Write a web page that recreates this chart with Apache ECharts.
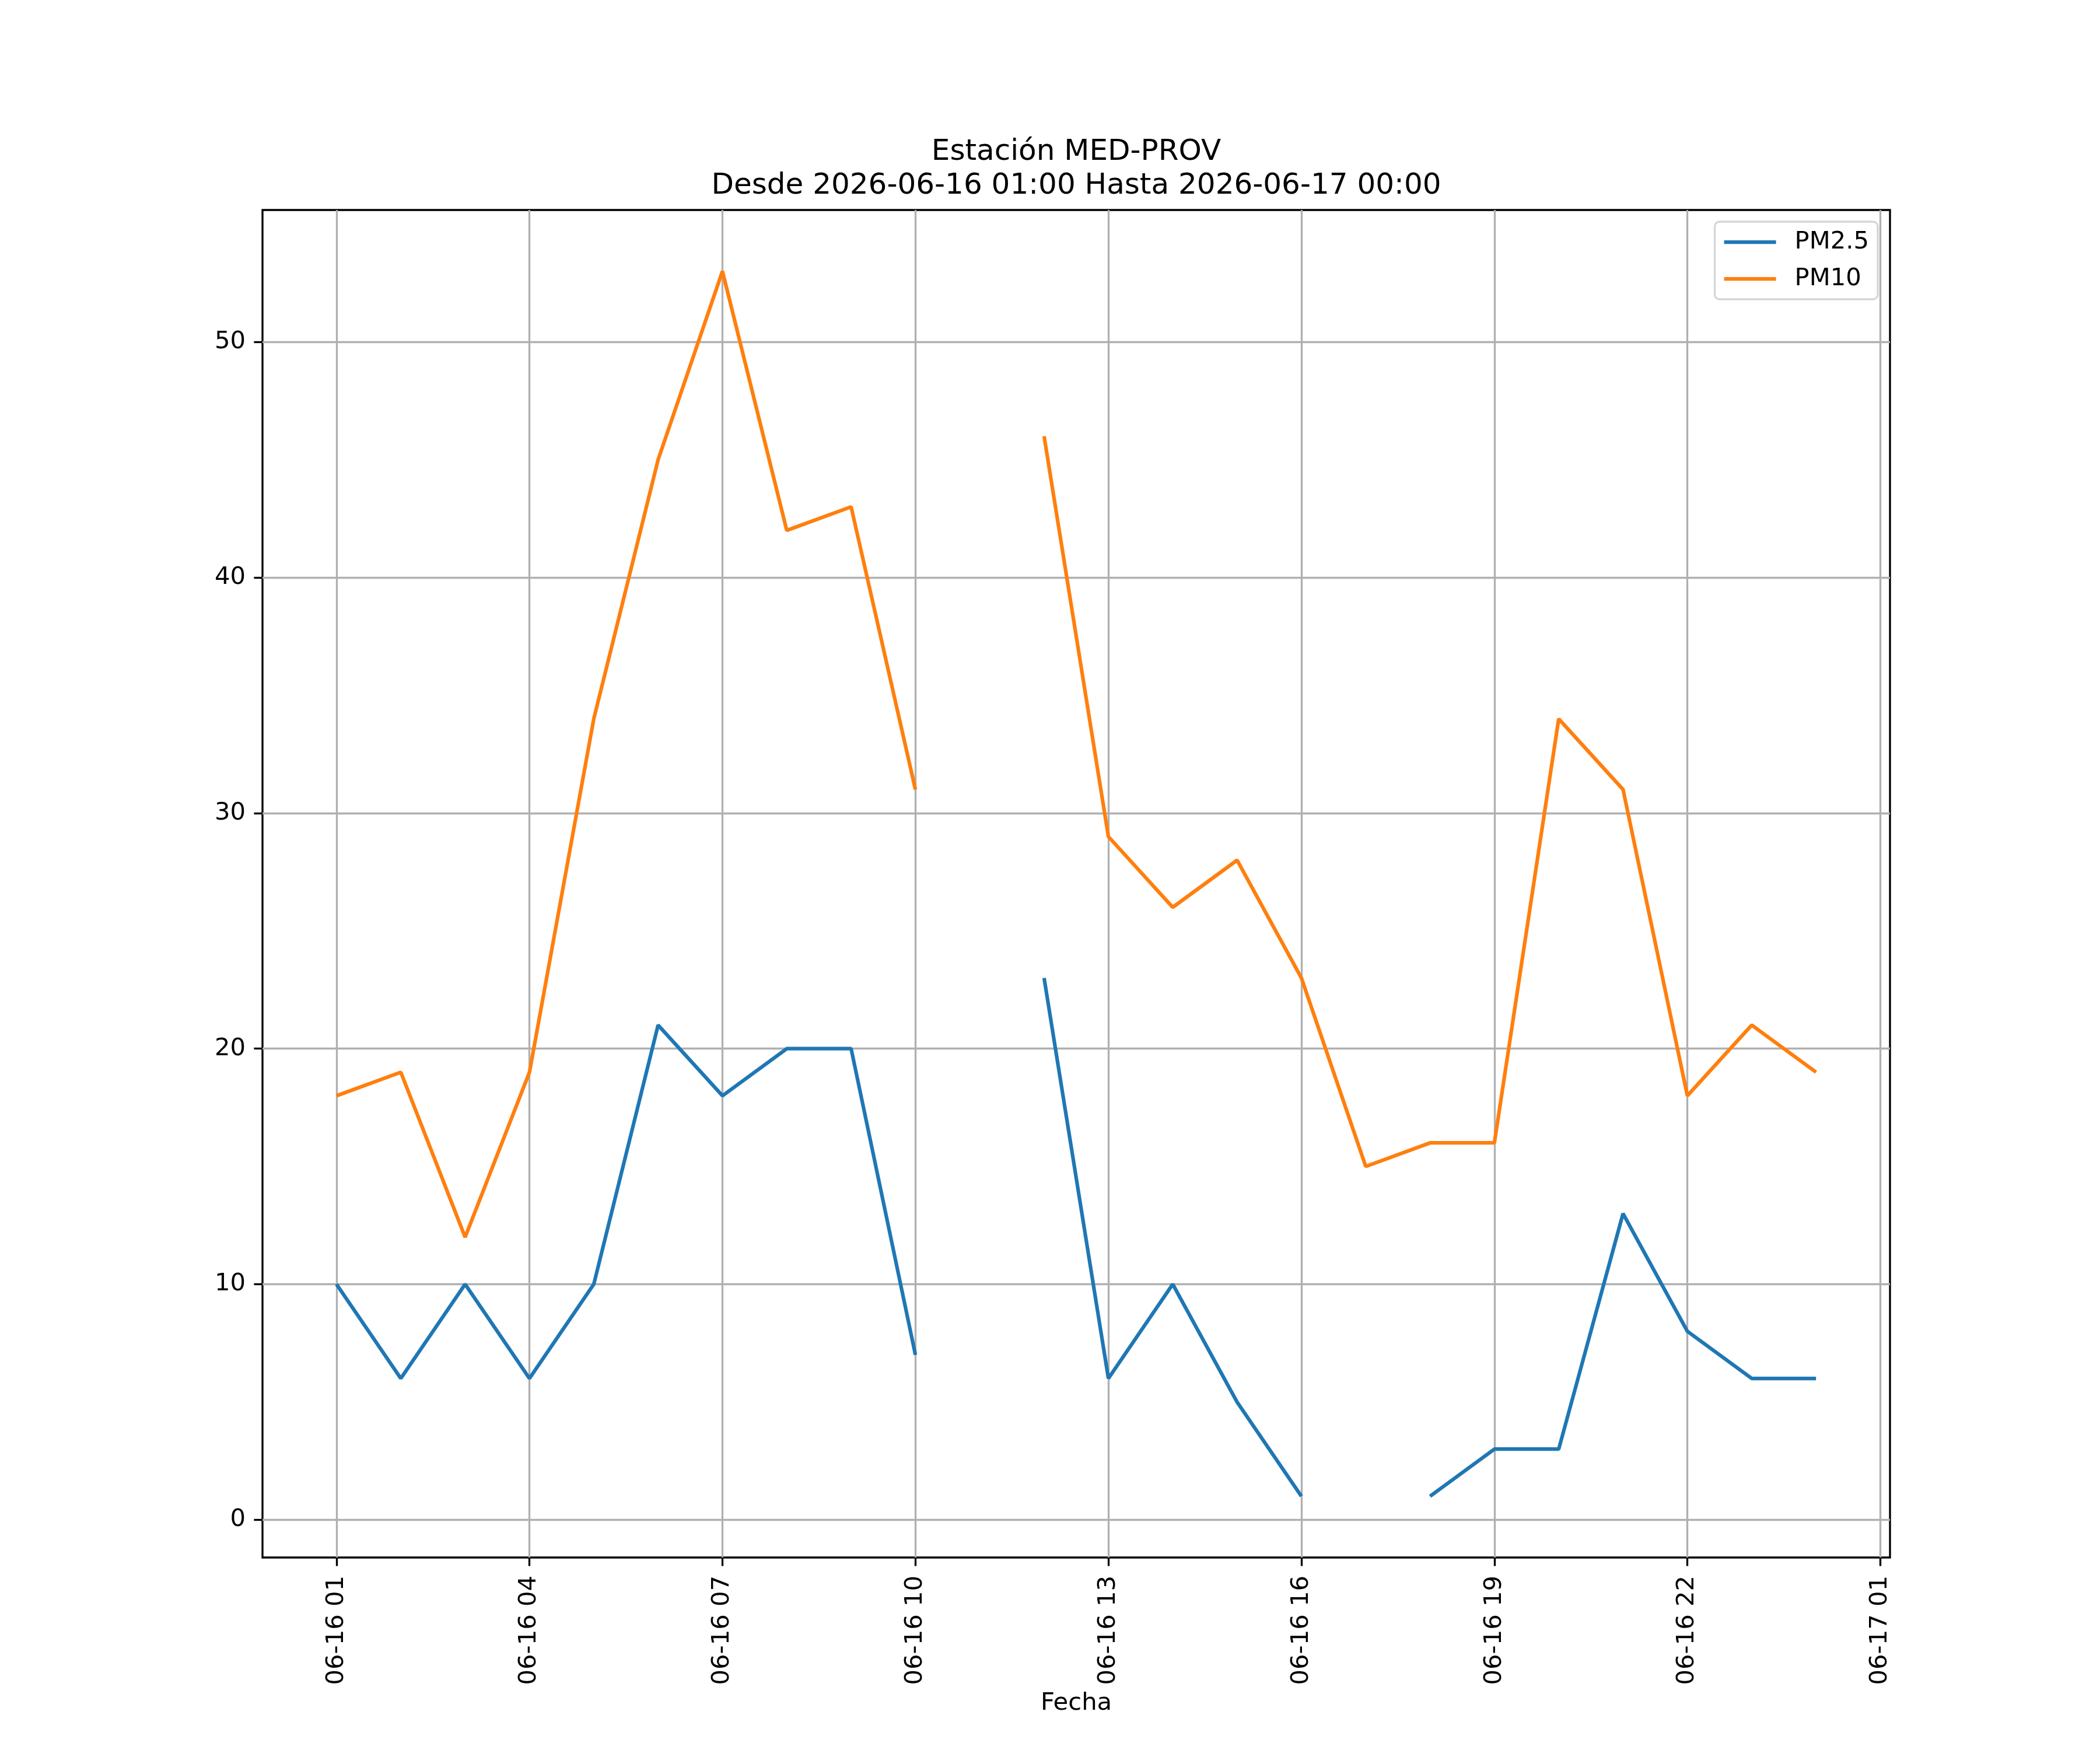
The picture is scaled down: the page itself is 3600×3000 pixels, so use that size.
<!DOCTYPE html>
<html>
<head>
<meta charset="utf-8">
<script src="https://cdn.jsdelivr.net/npm/echarts@6/dist/echarts.min.js"></script>
<style>
html, body { margin: 0; padding: 0; background: #fff; }
#chart { width: 3600px; height: 3000px; }
</style>
</head>
<body>
<div id="chart"></div>
<script>
// horas 06-16 01 ... 06-17 00 (indice 0..23)
var horas = ['06-16 01', '06-16 02', '06-16 03', '06-16 04', '06-16 05', '06-16 06',
	'06-16 07', '06-16 08', '06-16 09', '06-16 10', '06-16 11', '06-16 12',
	'06-16 13', '06-16 14', '06-16 15', '06-16 16', '06-16 17', '06-16 18',
	'06-16 19', '06-16 20', '06-16 21', '06-16 22', '06-16 23', '06-17 00'];
var pm25 = [10, 6, 10, 6, 10, 21, 18, 20, 20, 7, null, 23, 6, 10, 5, 1, null, 1, 3, 3, 13, 8, 6, 6];
var pm10 = [18, 19, 12, 19, 34, 45, 53, 42, 43, 31, null, 46, 29, 26, 28, 23, 15, 16, 16, 34, 31, 18, 21, 19];

// marcas del eje x cada 3 horas
var xTicks = [0, 3, 6, 9, 12, 15, 18, 21, 24];
var xTickLabels = ['06-16 01', '06-16 04', '06-16 07', '06-16 10', '06-16 13',
	'06-16 16', '06-16 19', '06-16 22', '06-17 01'];
var yTicks = [0, 10, 20, 30, 40, 50];

function toPairs(arr) {
	return arr.map(function(v, i) { return [i, v === null ? '-' : v]; });
}

var FONT = 'DejaVu Sans';
var LW = 3.33;

var chart = echarts.init(document.getElementById('chart'), null, { renderer: 'canvas', devicePixelRatio: 1 });
chart.setOption({
	animation: false,
	backgroundColor: '#ffffff',
	title: {
		text: 'Estación MED-PROV\nDesde 2026-06-16 01:00 Hasta 2026-06-17 00:00',
		left: 1845,
		textAlign: 'center',
		top: 232,
		padding: 0,
		textStyle: { fontFamily: FONT, fontSize: 50, fontWeight: 'normal', color: '#000', lineHeight: 58 }
	},
	legend: {
		right: 381,
		top: 380,
		orient: 'vertical',
		padding: [14, 15, 14, 16],
		icon: 'rect',
		itemWidth: 89,
		itemHeight: 6.25,
		itemGap: 21,
		borderColor: '#d6d6d6',
		borderWidth: 3.3,
		borderRadius: 8,
		backgroundColor: 'rgba(255,255,255,0.8)',
		textStyle: { fontFamily: FONT, fontSize: 41.7, color: '#000', padding: [0, 0, 0, 27] },
		data: ['PM2.5', 'PM10']
	},
	grid: {
		left: 450, right: 360, top: 360, bottom: 330,
		show: true, borderColor: '#000', borderWidth: LW, backgroundColor: 'transparent'
	},
	xAxis: {
		type: 'value',
		min: -1.15,
		max: 24.15,
		name: 'Fecha',
		nameLocation: 'middle',
		nameGap: 229,
		nameTextStyle: { fontFamily: FONT, fontSize: 41.7, color: '#000' },
		axisLine: { show: false, onZero: false },
		axisTick: { show: true, customValues: xTicks, length: 14.6, lineStyle: { color: '#000', width: LW } },
		axisLabel: {
			customValues: xTicks,
			rotate: 90,
			margin: 31,
			fontFamily: FONT, fontSize: 41.7, color: '#000',
			formatter: function(v) { return xTickLabels[Math.round(v / 3)]; }
		},
		splitLine: { show: true, lineStyle: { color: '#b0b0b0', width: LW } }
	},
	yAxis: {
		type: 'value',
		min: -1.6,
		max: 55.6,
		axisLine: { show: false, onZero: false },
		axisTick: { show: true, customValues: yTicks, length: 14.6, lineStyle: { color: '#000', width: LW } },
		axisLabel: {
			customValues: yTicks,
			margin: 29,
			fontFamily: FONT, fontSize: 41.7, color: '#000'
		},
		splitLine: { show: true, lineStyle: { color: '#b0b0b0', width: LW } }
	},
	series: [
		{
			name: 'PM2.5',
			type: 'line',
			symbol: 'none',
			connectNulls: false,
			color: '#1f77b4',
			lineStyle: { width: 6.25, color: '#1f77b4' },
			data: toPairs(pm25)
		},
		{
			name: 'PM10',
			type: 'line',
			symbol: 'none',
			connectNulls: false,
			color: '#ff7f0e',
			lineStyle: { width: 6.25, color: '#ff7f0e' },
			data: toPairs(pm10)
		}
	]
});
</script>
</body>
</html>
